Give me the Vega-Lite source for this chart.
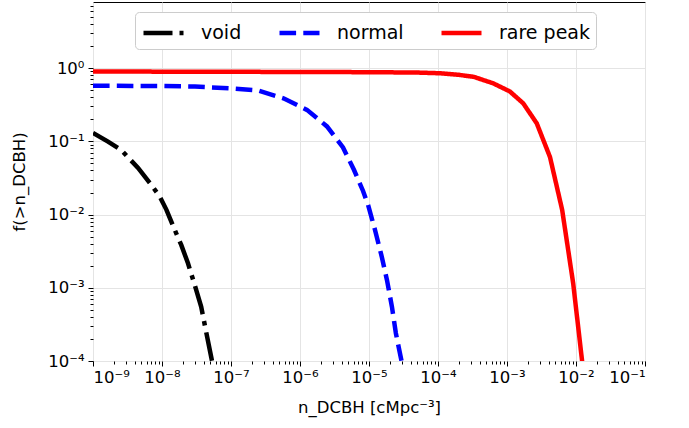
{
  "$schema": "https://vega.github.io/schema/vega-lite/v6.json",
  "width": 552,
  "height": 359,
  "autosize": {"type": "none"},
  "padding": {"left": 93, "top": 2, "right": 44, "bottom": 67},
  "background": "white",
  "config": {
    "font": "DejaVu Sans",
    "view": {"stroke": "black", "strokeWidth": 1},
    "axis": {
      "domain": false,
      "tickColor": "black",
      "tickWidth": 1,
      "labelColor": "black",
      "titleColor": "black",
      "labelFont": "DejaVu Sans",
      "titleFont": "DejaVu Sans",
      "labelFontSize": 16.5,
      "titleFontSize": 16.5,
      "titleFontWeight": "normal",
      "gridColor": "#e4e4e4",
      "gridWidth": 1
    },
    "legend": {
      "title": null,
      "orient": "none",
      "legendX": 42,
      "legendY": 10,
      "direction": "horizontal",
      "symbolType": "M-1,0H2.2",
      "symbolSize": 625,
      "symbolStrokeWidth": 4.5,
      "labelFontSize": 19,
      "labelFont": "DejaVu Sans",
      "labelColor": "black",
      "labelOffset": 30,
      "columnPadding": 28,
      "padding": 6,
      "fillColor": "white",
      "strokeColor": "#cccccc",
      "cornerRadius": 4
    }
  },
  "data": {
    "values": [
      {"series": "void", "n": 1e-9, "f": 0.13},
      {"series": "void", "n": 1.65e-9, "f": 0.099},
      {"series": "void", "n": 2.57e-9, "f": 0.076},
      {"series": "void", "n": 4.5e-9, "f": 0.0433},
      {"series": "void", "n": 7e-9, "f": 0.0254},
      {"series": "void", "n": 9.3e-9, "f": 0.0176},
      {"series": "void", "n": 1.16e-8, "f": 0.0116},
      {"series": "void", "n": 1.6e-8, "f": 0.0056},
      {"series": "void", "n": 1.9e-8, "f": 0.00385},
      {"series": "void", "n": 2.38e-8, "f": 0.00216},
      {"series": "void", "n": 2.98e-8, "f": 0.00109},
      {"series": "void", "n": 3.7e-8, "f": 0.00055},
      {"series": "void", "n": 4.4e-8, "f": 0.00024},
      {"series": "void", "n": 5.2e-8, "f": 0.00011},
      {"series": "void", "n": 5.7e-8, "f": 0.00007},
      {"series": "normal", "n": 1e-9, "f": 0.575},
      {"series": "normal", "n": 1e-8, "f": 0.57},
      {"series": "normal", "n": 3e-8, "f": 0.56},
      {"series": "normal", "n": 1e-7, "f": 0.53},
      {"series": "normal", "n": 2.46e-7, "f": 0.495},
      {"series": "normal", "n": 5.86e-7, "f": 0.385},
      {"series": "normal", "n": 1.26e-6, "f": 0.269},
      {"series": "normal", "n": 2.46e-6, "f": 0.16},
      {"series": "normal", "n": 4.2e-6, "f": 0.0826},
      {"series": "normal", "n": 6.07e-6, "f": 0.0406},
      {"series": "normal", "n": 8.2e-6, "f": 0.021},
      {"series": "normal", "n": 9.7e-6, "f": 0.0135},
      {"series": "normal", "n": 1.22e-5, "f": 0.0062},
      {"series": "normal", "n": 1.54e-5, "f": 0.0026},
      {"series": "normal", "n": 1.82e-5, "f": 0.00128},
      {"series": "normal", "n": 2.15e-5, "f": 0.00055},
      {"series": "normal", "n": 2.45e-5, "f": 0.00024},
      {"series": "normal", "n": 2.9e-5, "f": 0.00011},
      {"series": "normal", "n": 3.2e-5, "f": 0.00007},
      {"series": "rare peak", "n": 1e-9, "f": 0.9},
      {"series": "rare peak", "n": 1e-8, "f": 0.895},
      {"series": "rare peak", "n": 1e-7, "f": 0.89},
      {"series": "rare peak", "n": 1e-6, "f": 0.887},
      {"series": "rare peak", "n": 1e-5, "f": 0.88},
      {"series": "rare peak", "n": 5e-5, "f": 0.87},
      {"series": "rare peak", "n": 1.1e-4, "f": 0.85},
      {"series": "rare peak", "n": 2e-4, "f": 0.81},
      {"series": "rare peak", "n": 3.3e-4, "f": 0.76},
      {"series": "rare peak", "n": 6.3e-4, "f": 0.62},
      {"series": "rare peak", "n": 1.1e-3, "f": 0.48},
      {"series": "rare peak", "n": 1.72e-3, "f": 0.33},
      {"series": "rare peak", "n": 2.7e-3, "f": 0.176},
      {"series": "rare peak", "n": 4.2e-3, "f": 0.061},
      {"series": "rare peak", "n": 6.3e-3, "f": 0.0116},
      {"series": "rare peak", "n": 9.1e-3, "f": 0.00115},
      {"series": "rare peak", "n": 1.28e-2, "f": 0.00007}
    ]
  },
  "layer": [
    {
      "mark": {"type": "line", "clip": true, "strokeWidth": 4.5},
      "encoding": {
        "x": {
          "field": "n",
          "type": "quantitative",
          "scale": {"type": "log", "domain": [1e-9, 0.1], "nice": false},
          "axis": {
            "values": [1e-9, 1e-8, 1e-7, 1e-6, 1e-5, 1e-4, 1e-3, 1e-2, 1e-1],
            "labelExpr": "'10' + (round(log(datum.value)/LN10) < 0 ? '⁻' : '') + substring('⁰¹²³⁴⁵⁶⁷⁸⁹', abs(round(log(datum.value)/LN10)), abs(round(log(datum.value)/LN10)) + 1)",
            "tickSize": 5,
            "labelPadding": 3,
            "grid": true,
            "orient": "bottom",
            "title": "n_DCBH [cMpc⁻³]",
            "titlePadding": 14
          }
        },
        "y": {
          "field": "f",
          "type": "quantitative",
          "scale": {"type": "log", "domain": [1e-4, 8], "nice": false},
          "axis": {
            "values": [1e-4, 1e-3, 1e-2, 1e-1, 1],
            "labelExpr": "'10' + (round(log(datum.value)/LN10) < 0 ? '⁻' : '') + substring('⁰¹²³⁴⁵⁶⁷⁸⁹', abs(round(log(datum.value)/LN10)), abs(round(log(datum.value)/LN10)) + 1)",
            "tickSize": 5,
            "labelPadding": 4,
            "grid": true,
            "orient": "left",
            "title": "f(>n_DCBH)",
            "titlePadding": 20
          }
        },
        "color": {
          "field": "series",
          "type": "nominal",
          "scale": {"domain": ["void", "normal", "rare peak"], "range": ["black", "blue", "red"]}
        },
        "strokeDash": {
          "field": "series",
          "type": "nominal",
          "scale": {"domain": ["void", "normal", "rare peak"], "range": [[29, 7, 4.5, 7], [16.6, 7.2], [1, 0]]}
        }
      }
    },
    {
      "mark": {"type": "point", "opacity": 0},
      "encoding": {
        "x": {
          "field": "n",
          "type": "quantitative",
          "scale": {"type": "log", "domain": [1e-9, 0.1], "nice": false},
          "axis": {
            "orient": "bottom",
            "values": [2e-9,3e-9,4e-9,5e-9,6e-9,7e-9,8e-9,9e-9,2e-8,3e-8,4e-8,5e-8,6e-8,7e-8,8e-8,9e-8,2e-7,3e-7,4e-7,5e-7,6e-7,7e-7,8e-7,9e-7,2e-6,3e-6,4e-6,5e-6,6e-6,7e-6,8e-6,9e-6,2e-5,3e-5,4e-5,5e-5,6e-5,7e-5,8e-5,9e-5,2e-4,3e-4,4e-4,5e-4,6e-4,7e-4,8e-4,9e-4,2e-3,3e-3,4e-3,5e-3,6e-3,7e-3,8e-3,9e-3,2e-2,3e-2,4e-2,5e-2,6e-2,7e-2,8e-2,9e-2],
            "labels": false,
            "grid": false,
            "tickSize": 3,
            "title": null
          }
        },
        "y": {
          "field": "f",
          "type": "quantitative",
          "scale": {"type": "log", "domain": [1e-4, 8], "nice": false},
          "axis": {
            "orient": "left",
            "values": [2e-4,3e-4,4e-4,5e-4,6e-4,7e-4,8e-4,9e-4,2e-3,3e-3,4e-3,5e-3,6e-3,7e-3,8e-3,9e-3,2e-2,3e-2,4e-2,5e-2,6e-2,7e-2,8e-2,9e-2,0.2,0.3,0.4,0.5,0.6,0.7,0.8,0.9,2,3,4,5,6,7],
            "labels": false,
            "grid": false,
            "tickSize": 3,
            "title": null
          }
        }
      }
    }
  ],
  "resolve": {"axis": {"x": "independent", "y": "independent"}}
}
